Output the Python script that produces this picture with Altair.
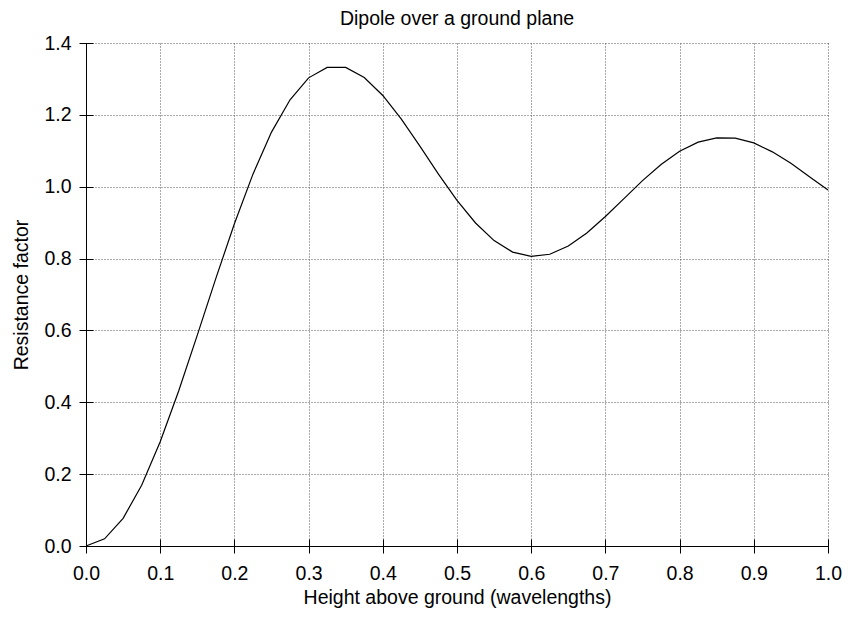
import altair as alt
import pandas as pd

# Height above ground (wavelengths)
height_wl = [0.000, 0.025, 0.050, 0.075, 0.100, 0.125, 0.150, 0.175, 0.200, 0.225,
             0.250, 0.275, 0.300, 0.325, 0.350, 0.375, 0.400, 0.425, 0.450, 0.475,
             0.500, 0.525, 0.550, 0.575, 0.600, 0.625, 0.650, 0.675, 0.700, 0.725,
             0.750, 0.775, 0.800, 0.825, 0.850, 0.875, 0.900, 0.925, 0.950, 0.975,
             1.000]

# Resistance factor
resistance = [0.000, 0.020, 0.077, 0.169, 0.290, 0.432, 0.587, 0.745, 0.897, 1.035,
              1.152, 1.242, 1.303, 1.332, 1.332, 1.304, 1.254, 1.188, 1.113, 1.035,
              0.962, 0.899, 0.850, 0.818, 0.806, 0.812, 0.835, 0.871, 0.917, 0.967,
              1.017, 1.062, 1.099, 1.124, 1.136, 1.135, 1.122, 1.097, 1.065, 1.028,
              0.991]

x_ticks = [0.0, 0.1, 0.2, 0.3, 0.4, 0.5, 0.6, 0.7, 0.8, 0.9, 1.0]
y_ticks = [0.0, 0.2, 0.4, 0.6, 0.8, 1.0, 1.2, 1.4]

df = pd.DataFrame({"h": height_wl, "r": resistance})

FONT = "Liberation Sans"
W, H = 742, 503

xscale = alt.Scale(domain=[0, 1], nice=False, zero=False)
yscale = alt.Scale(domain=[0, 1.4], nice=False, zero=False)

line = alt.Chart(df).mark_line(color="black", strokeWidth=1.2).encode(
    x=alt.X("h:Q", scale=xscale, title="Height above ground (wavelengths)",
            axis=alt.Axis(orient="bottom", values=x_ticks, format=".1f",
                          tickSize=7, tickColor="black", tickWidth=1,
                          domainColor="black", domainWidth=1,
                          labelPadding=11, labelFontSize=19.5, labelColor="black",
                          labelFont=FONT, labelFlush=False,
                          titleFont=FONT, titleFontSize=19.5, titleFontWeight="normal",
                          titleColor="black", titlePadding=6,
                          grid=True, gridColor="#555555", gridDash=[1, 2], gridWidth=1)),
    y=alt.Y("r:Q", scale=yscale, title="Resistance factor",
            axis=alt.Axis(orient="left", values=y_ticks, format=".1f",
                          tickSize=7, tickColor="black", tickWidth=1,
                          domainColor="black", domainWidth=1,
                          labelPadding=8, labelFontSize=19.5, labelColor="black",
                          labelFont=FONT, labelFlush=False,
                          titleFont=FONT, titleFontSize=19.5, titleFontWeight="normal",
                          titleColor="black", titlePadding=12,
                          grid=True, gridColor="#555555", gridDash=[1, 2], gridWidth=1)),
)

# Inner halves of the crossing tick marks
inner = alt.Chart(df).mark_line(strokeOpacity=0).encode(
    x=alt.X("h:Q", scale=xscale, title="",
            axis=alt.Axis(orient="top", offset=-H, values=x_ticks, labels=False,
                          domain=False, grid=False, tickSize=7, tickColor="black",
                          tickWidth=1)),
    y=alt.Y("r:Q", scale=yscale, title="",
            axis=alt.Axis(orient="right", offset=-W, values=y_ticks, labels=False,
                          domain=False, grid=False, tickSize=7, tickColor="black",
                          tickWidth=1)),
)

chart = alt.layer(line, inner).resolve_axis(
    x="independent", y="independent"
).properties(
    width=W, height=H,
    title=alt.TitleParams("Dipole over a ground plane", font=FONT, fontSize=19.5,
                          fontWeight="normal", color="black", anchor="middle",
                          offset=4),
    autosize=alt.AutoSizeParams(type="none"),
    padding={"left": 78, "top": 35, "right": 14, "bottom": 64},
).configure_view(stroke=None)

chart.save("out.html", embed_options={"renderer": "svg", "actions": False})
